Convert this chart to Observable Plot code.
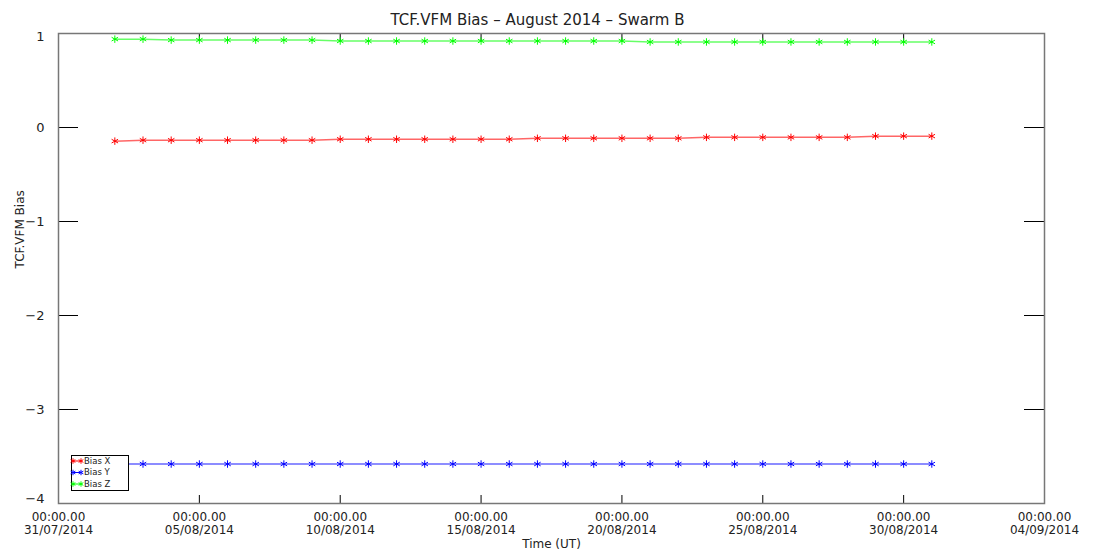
<!DOCTYPE html>
<html>
<head>
<meta charset="utf-8">
<script src="https://cdn.jsdelivr.net/npm/d3@7"></script>
<script src="https://cdn.jsdelivr.net/npm/@observablehq/plot@0.6"></script>
<style>
  html, body { margin: 0; padding: 0; background: #fff; }
  #wrap { position: relative; width: 1097px; height: 552px; }
  #legend { position: absolute; left: 0; top: 0; pointer-events: none; }
</style>
</head>
<body>
<div id="wrap"></div>
<script>
// ---- data ----
const dates = [
  "2014-08-02","2014-08-03","2014-08-04","2014-08-05","2014-08-06","2014-08-07",
  "2014-08-08","2014-08-09","2014-08-10","2014-08-11","2014-08-12","2014-08-13",
  "2014-08-14","2014-08-15","2014-08-16","2014-08-17","2014-08-18","2014-08-19",
  "2014-08-20","2014-08-21","2014-08-22","2014-08-23","2014-08-24","2014-08-25",
  "2014-08-26","2014-08-27","2014-08-28","2014-08-29","2014-08-30","2014-08-31"
];
const biasX = [
  -0.145,
  -0.135,-0.135,-0.135,-0.135,-0.135,-0.135,-0.135,
  -0.125,-0.125,-0.125,-0.125,-0.125,-0.125,-0.125,
  -0.115,-0.115,-0.115,-0.115,-0.115,-0.115,
  -0.105,-0.105,-0.105,-0.105,-0.105,-0.105,
  -0.092,-0.092,-0.092
];
const biasY = [
  -3.58,-3.58,-3.58,-3.58,-3.58,-3.58,-3.58,-3.58,-3.58,-3.58,
  -3.58,-3.58,-3.58,-3.58,-3.58,-3.58,-3.58,-3.58,-3.58,-3.58,
  -3.58,-3.58,-3.58,-3.58,-3.58,-3.58,-3.58,-3.58,-3.58,-3.58
];
const biasZ = [
  0.94,0.94,
  0.93,0.93,0.93,0.93,0.93,0.93,
  0.92,0.92,0.92,0.92,0.92,0.92,0.92,0.92,0.92,0.92,0.92,
  0.91,0.91,0.91,0.91,0.91,0.91,0.91,0.91,0.91,0.91,0.91
];
const seriesNames = ["Bias X","Bias Y","Bias Z"];
const seriesColors = ["#ff0000","#0000ff","#00ff00"];
const xTickDates = ["2014-07-31","2014-08-05","2014-08-10","2014-08-15","2014-08-20","2014-08-25","2014-08-30","2014-09-04"];
const xTickTime = "00:00.00";
const yTicks = [1, 0, -1, -2, -3, -4];
const xDomain = ["2014-07-31","2014-09-04"];
const yDomain = [-4, 1];
const titleText = "TCF.VFM Bias \u2013 August 2014 \u2013 Swarm B";
const xLabel = "Time (UT)";
const yLabel = "TCF.VFM Bias";

// ---- build ----
const parse = d3.utcParse("%Y-%m-%d");
const fmtDate = d3.utcFormat("%d/%m/%Y");
const fmtY = d => (d < 0 ? "\u2212" + Math.abs(d) : String(d));
const allSeries = [biasX, biasY, biasZ];
const rows = [];
allSeries.forEach((vals, i) => vals.forEach((v, j) => rows.push({date: parse(dates[j]), value: v, series: seriesNames[i]})));
const xt = xTickDates.map(parse);
const xtInner = xt.slice(1, -1);
const ytInner = yTicks.slice(1, -1);
const ytTop = yTicks.slice(0, 1);
const ytBottom = yTicks.slice(-1);

const W = 1097, H = 552, mL = 58, mR = 53, mT = 33, mB = 49;
const fw = W - mL - mR, fh = H - mT - mB;
const txt = "#222";
const yLab = {frameAnchor: "left", dx: -14, textAnchor: "end", text: fmtY, fontSize: 13, fill: txt};

const chart = Plot.plot({
  width: W, height: H,
  marginLeft: mL, marginRight: mR, marginTop: mT, marginBottom: mB,
  style: {fontFamily: "DejaVu Sans", background: "#fff", color: txt},
  x: {type: "utc", domain: xDomain.map(parse), axis: null},
  y: {domain: yDomain, axis: null},
  color: {domain: seriesNames, range: seriesColors},
  marks: [
    Plot.ruleX(xtInner, {x: d => d, insetTop: fh - 8, stroke: "#000"}),
    Plot.ruleX(xtInner, {x: d => d, insetBottom: fh - 8, stroke: "#000"}),
    Plot.ruleY(ytInner, {y: d => d, insetRight: fw - 20, stroke: "#000"}),
    Plot.ruleY(ytInner, {y: d => d, insetLeft: fw - 20, stroke: "#000"}),
    Plot.frame({stroke: "#777", strokeWidth: 1.5}),
    Plot.line(rows, {x: "date", y: "value", z: "series", stroke: "series", strokeWidth: 1.5, strokeOpacity: 0.6}),
    Plot.dot(rows, {x: "date", y: "value", stroke: "series", symbol: "asterisk", r: 3.5, strokeWidth: 1}),
    Plot.text(ytInner, {y: d => d, ...yLab}),
    Plot.text(ytTop, {y: d => d, ...yLab, dy: 3}),
    Plot.text(ytBottom, {y: d => d, ...yLab, dy: -5}),
    Plot.text(xt, {x: d => d, frameAnchor: "bottom", dy: 17, text: () => xTickTime, fontSize: 12, fill: txt}),
    Plot.text(xt, {x: d => d, frameAnchor: "bottom", dy: 30, text: d => fmtDate(d), fontSize: 12, fill: txt}),
    Plot.text([xLabel], {frameAnchor: "bottom", dy: 44, text: d => d, fontSize: 12, fill: txt}),
    Plot.text([yLabel], {frameAnchor: "left", dx: -38, rotate: -90, text: d => d, fontSize: 12, fill: txt}),
    Plot.text([titleText], {frameAnchor: "top", dy: -19, dx: -14, text: d => d, fontSize: 15, fill: txt})
  ]
});
const wrap = document.getElementById("wrap");
wrap.appendChild(chart);

// ---- legend overlay ----
const lg = d3.select(wrap).append("svg").attr("id", "legend").attr("width", W).attr("height", H);
lg.append("rect").attr("x", 71.5).attr("y", 455.5).attr("width", 57).attr("height", 35)
  .attr("fill", "#fff").attr("stroke", "#000").attr("stroke-width", 1);
const sym = d3.symbol(d3.symbolAsterisk, 20)();
seriesNames.forEach((name, i) => {
  const cy = 461 + i * 11.5;
  const g = lg.append("g");
  g.append("line").attr("x1", 73).attr("x2", 81).attr("y1", cy).attr("y2", cy)
    .attr("stroke", seriesColors[i]).attr("stroke-width", 1);
  [73, 81].forEach(cx => g.append("path").attr("d", sym).attr("transform", `translate(${cx},${cy})`)
    .attr("fill", "none").attr("stroke", seriesColors[i]).attr("stroke-width", 1));
  g.append("text").attr("x", 84).attr("y", cy).attr("dy", "0.35em")
    .attr("font-family", "DejaVu Sans").attr("font-size", 8.5).attr("fill", txt).text(name);
});
</script>
</body>
</html>
